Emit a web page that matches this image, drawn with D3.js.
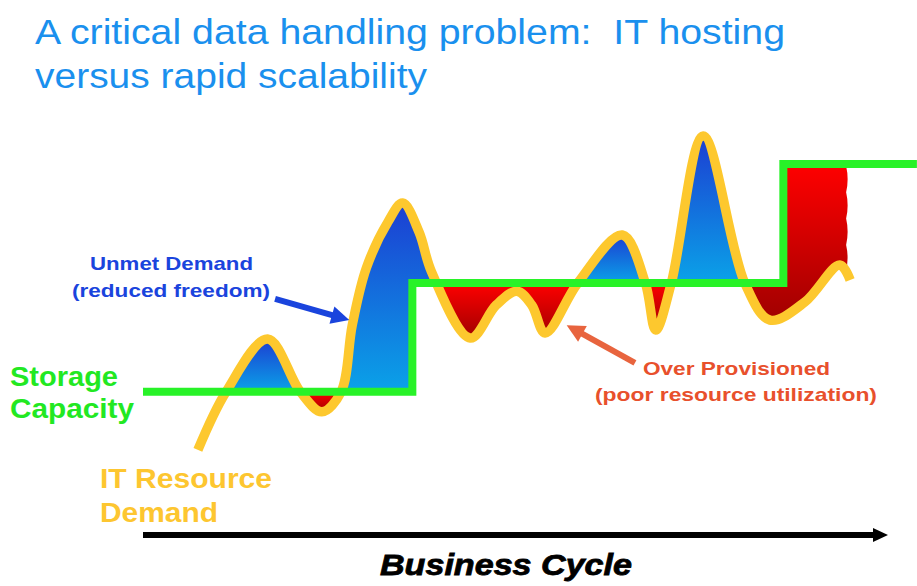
<!DOCTYPE html>
<html><head><meta charset="utf-8">
<script src="https://cdn.jsdelivr.net/npm/d3@7"></script>
<style>
body{margin:0;background:#fff;overflow:hidden}
svg{display:block}
text{font-family:"Liberation Sans",Arial,Helvetica,sans-serif;white-space:pre}
</style>
</head><body>
<script>
// ---- data (business-cycle time 0..100, resource level 0..100) ----
const demandTime  = [7.4, 11.2, 16.8, 21.2, 24.1, 26.7, 28.2, 30.1, 33.0, 35.0, 37.2, 38.9, 44.1, 47.6, 50.4, 52.4, 54.2, 58.6, 64.6, 67.7, 69.1, 71.2, 75.5, 81.1, 84.5, 89.2, 93.9, 95.3];
const demandLevel = [5.9, 23.0, 38.5, 23.0, 17.1, 23.0, 42.6, 59.4, 72.9, 78.5, 70.0, 58.2, 38.8, 48.5, 52.6, 48.5, 40.3, 55.0, 69.1, 55.0, 41.2, 55.0, 98.2, 55.0, 44.1, 49.4, 60.3, 55.9];
const capacityTime  = [0, 36.3, 86.3, 104.3];
const capacityLevel = [23, 55, 90, 90];
const titleLines = ["A critical data handling problem:  IT hosting", "versus rapid scalability"];

const W = 917, H = 586;
const x = d3.scaleLinear().domain([0, 100]).range([143, 885]);
const y = d3.scaleLinear().domain([0, 100]).range([470, 130]);

const svg = d3.select("body").append("svg").attr("width", W).attr("height", H);
const defs = svg.append("defs");
function grad(id, c0, c1) {
  const g = defs.append("linearGradient").attr("id", id)
    .attr("x1", 0).attr("y1", 0).attr("x2", 0).attr("y2", 1);
  g.append("stop").attr("offset", "0%").attr("stop-color", c0);
  g.append("stop").attr("offset", "100%").attr("stop-color", c1);
}
grad("gBlue", "#1c3ed2", "#0aa2e8");
grad("gRed", "#ff0000", "#a00000");

const demand = demandTime.map((t, i) => [t, demandLevel[i]]);
const capacity = capacityTime.map((t, i) => [t, capacityLevel[i]]);

const demandLine = d3.line().x(d => x(d[0])).y(d => y(d[1])).curve(d3.curveCatmullRom.alpha(0.5));
const capLine = d3.line().x(d => x(d[0])).y(d => y(d[1])).curve(d3.curveStepAfter);

function capY(px) {
  const t = x.invert(px);
  let lv = capacityLevel[0];
  for (let i = 0; i < capacityTime.length; i++) if (capacityTime[i] <= t) lv = capacityLevel[i];
  return y(lv);
}

const fillG = svg.append("g");
const helper = svg.append("path").attr("d", demandLine(demand)).attr("fill", "none").attr("stroke", "none");
const node = helper.node();
const L = node.getTotalLength();
const samples = [];
for (let s = 0; s <= L; s += 0.5) { const p = node.getPointAtLength(s); samples.push([p.x, p.y]); }
const last = node.getPointAtLength(L); samples.push([last.x, last.y]);

const groups = [];
let cur = null;
samples.forEach(p => {
  const type = p[1] < capY(p[0]) ? "blue" : "red";
  if (!cur || cur.type !== type) { cur = { type, pts: [] }; groups.push(cur); }
  cur.pts.push(p);
});
groups.slice(1).forEach((g, gi, arr) => {
  const isLast = gi === arr.length - 1;
  let pts = g.pts;
  let d = "";
  if (isLast) {
    const xEdge = pts[pts.length - 1][0] - 4;
    pts = pts.filter(p => p[0] <= xEdge);
    d = "M" + pts.map(p => p[0] + "," + p[1]).join("L");
    const yb = pts[pts.length - 1][1], yt = capY(xEdge) + 2;
    const n = 4, h = (yb - yt) / n;
    for (let k = 0; k < n; k++) {
      const y0 = yb - k * h, y1 = yb - (k + 1) * h;
      d += "Q" + (xEdge + 3) + "," + ((y0 + y1) / 2) + " " + xEdge + "," + y1;
    }
  } else {
    d = "M" + pts.map(p => p[0] + "," + p[1]).join("L");
  }
  const back = pts.slice().reverse().map(p => p[0] + "," + capY(p[0]));
  d += "L" + back.join("L") + "Z";
  fillG.append("path").attr("d", d).attr("fill", g.type === "blue" ? "url(#gBlue)" : "url(#gRed)");
});
helper.remove();

svg.append("path").attr("d", demandLine(demand)).attr("fill", "none")
  .attr("stroke", "#fdc82e").attr("stroke-width", 9.5).attr("stroke-linecap", "butt").attr("stroke-linejoin", "round");
svg.append("path").attr("d", capLine(capacity)).attr("fill", "none")
  .attr("stroke", "#28f228").attr("stroke-width", 8).attr("stroke-linejoin", "miter");

function arrow(t0, l0, t1, l1, color, w, hl, hw) {
  const x0 = x(t0), y0 = y(l0), x1 = x(t1), y1 = y(l1);
  const dx = x1 - x0, dy = y1 - y0, len = Math.hypot(dx, dy), ux = dx / len, uy = dy / len;
  const bx = x1 - ux * hl, by = y1 - uy * hl;
  svg.append("line").attr("x1", x0).attr("y1", y0).attr("x2", bx + ux * 1).attr("y2", by + uy * 1)
    .attr("stroke", color).attr("stroke-width", w);
  svg.append("path").attr("d", `M${x1},${y1}L${bx - uy * hw},${by + ux * hw}L${bx + uy * hw},${by - ux * hw}Z`).attr("fill", color);
}
arrow(17.8, 50.3, 27.8, 44.1, "#1a44dd", 6, 18, 9);
arrow(66.3, 31.5, 57.1, 42.6, "#e8643e", 6, 18, 9);

svg.append("line").attr("x1", x(0)).attr("y1", 535).attr("x2", x(100) - 10).attr("y2", 535)
  .attr("stroke", "#000").attr("stroke-width", 6);
svg.append("path").attr("d", `M${x(100) + 3},535L${x(100) - 12},528L${x(100) - 12},542Z`).attr("fill", "#000");

function txt(s, px, py, size, color, len, opts = {}) {
  const t = svg.append("text").attr("x", px).attr("y", py).attr("font-size", size).attr("fill", color)
    .attr("xml:space", "preserve").text(s);
  if (opts.bold) t.attr("font-weight", "bold");
  if (opts.italic) t.attr("font-style", "italic");
  if (len) t.attr("textLength", len).attr("lengthAdjust", "spacingAndGlyphs");
  if (opts.stroke) t.attr("stroke", color).attr("stroke-width", opts.stroke);
  return t;
}
txt(titleLines[0], 35, 44, 35, "#1a90ee", 750);
txt(titleLines[1], 35, 88, 35, "#1a90ee", 392);
txt("Unmet Demand", 90, 270, 19, "#1a44dd", 163, { bold: true });
txt("(reduced freedom)", 72, 297, 19, "#1a44dd", 198, { bold: true });
txt("Storage", 10, 386, 28, "#22e822", 108, { bold: true });
txt("Capacity", 10, 418, 28, "#22e822", 124, { bold: true });
txt("IT Resource", 100, 488, 28, "#fdc630", 172, { bold: true });
txt("Demand", 100, 522, 28, "#fdc630", 118, { bold: true });
txt("Over Provisioned", 643, 375, 19, "#e8502c", 187, { bold: true });
txt("(poor resource utilization)", 595, 401, 19, "#e8502c", 282, { bold: true });
txt("Business Cycle", 380, 575, 29, "#000", 252, { bold: true, italic: true, stroke: 0.8 });
</script>
</body></html>
